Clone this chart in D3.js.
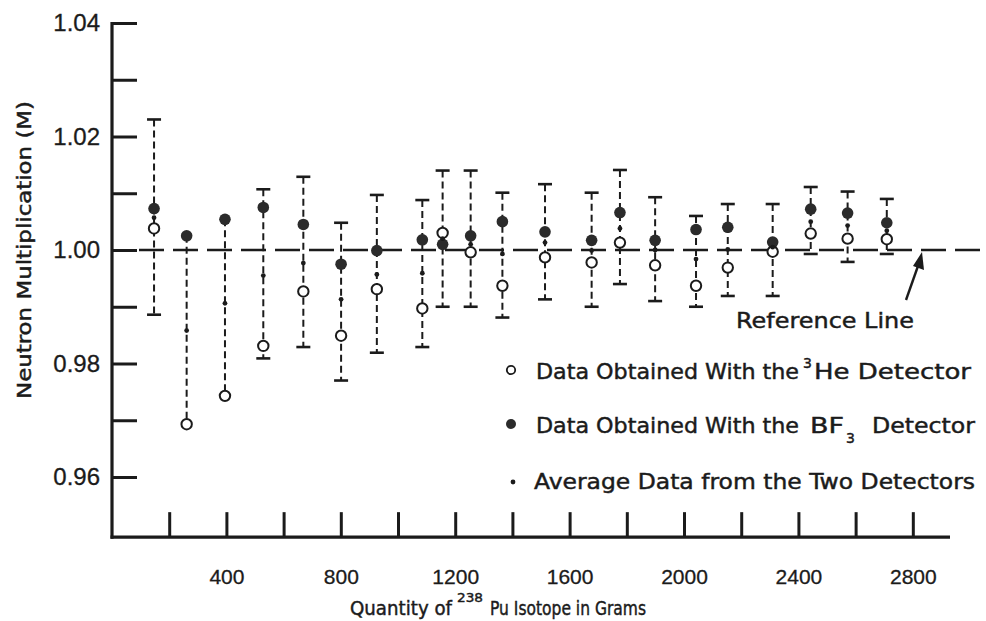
<!DOCTYPE html>
<html><head><meta charset="utf-8">
<script src="https://cdn.jsdelivr.net/npm/d3@7"></script>
<style>body{margin:0;background:#fff}svg{display:block}</style>
</head><body><svg id="c" width="986" height="621"></svg>
<script>
// ---- data ----
const grams   = [147, 261, 395, 529, 669, 801, 926, 1085, 1156, 1254, 1365, 1514, 1677, 1776, 1899, 2042, 2153, 2310, 2443, 2572, 2709];
const he3     = [1.0038, 0.9693, 0.9743, 0.9831, 0.9927, 0.9849, 0.9931, 0.9897, 1.0030, 0.9996, 0.9937, 0.9987, 0.9978, 1.0013, 0.9973, 0.9937, 0.9969, 0.9997, 1.0029, 1.0020, 1.0019];
const bf3     = [1.0073, 1.0025, 1.0054, 1.0075, 1.0045, 0.9975, 0.9999, 1.0018, 1.0010, 1.0025, 1.0050, 1.0032, 1.0017, 1.0066, 1.0017, 1.0036, 1.0040, 1.0014, 1.0072, 1.0065, 1.0048];
const average = [1.0057, 0.9858, 0.9906, 0.9955, 0.9977, 0.9913, 0.9957, 0.9959, 1.0020, 1.0010, 0.9993, 1.0013, 0.9999, 1.0038, 1.0000, 0.9984, 1.0001, 1.0005, 1.0050, 1.0043, 1.0034];
const errHigh = [1.0230, 1.0025, 1.0054, 1.0107, 1.0129, 1.0048, 1.0097, 1.0088, 1.0140, 1.0140, 1.0101, 1.0116, 1.0101, 1.0141, 1.0093, 1.0060, 1.0081, 1.0081, 1.0111, 1.0103, 1.0090];
const errLow  = [0.9886, 0.9693, 0.9743, 0.9809, 0.9829, 0.9770, 0.9819, 0.9829, 0.9900, 0.9900, 0.9881, 0.9913, 0.9900, 0.9940, 0.9910, 0.9900, 0.9919, 0.9919, 0.9993, 0.9979, 0.9993];
const yTicks      = [0.96, 0.97, 0.98, 0.99, 1.00, 1.01, 1.02, 1.03, 1.04];
const yLabelVals  = [0.96, 0.98, 1.00, 1.02, 1.04];
const yTickLabels = ["0.96", "0.98", "1.00", "1.02", "1.04"];
const xTicks      = [200, 400, 600, 800, 1000, 1200, 1400, 1600, 1800, 2000, 2200, 2400, 2600, 2800];
const xLabelVals  = [400, 800, 1200, 1600, 2000, 2400, 2800];
const xTickLabels = ["400", "800", "1200", "1600", "2000", "2400", "2800"];
const referenceValue = 1.00;
const axisBottomValue = 0.9494;
const xAxisMax = 2930;

// ---- drawing ----
const ink = "#1b1b1b";
const svg = d3.select("#c");
const x = d3.scaleLinear().domain([0, xAxisMax]).range([112, 950]);
const y = d3.scaleLinear().domain([0.96, 1.04]).range([477, 23]);
const baseY = y(axisBottomValue);

// y ticks (inward)
const gyt = svg.append("g").attr("transform", `translate(${x(0)},0)`)
  .call(d3.axisRight(y).tickValues(yTicks).tickSize(25).tickFormat(""));
gyt.select(".domain").remove();
gyt.selectAll(".tick line").attr("stroke", ink).attr("stroke-width", 3);

// y labels
const gyl = svg.append("g").attr("transform", `translate(${x(0)},0)`)
  .call(d3.axisLeft(y).tickValues(yLabelVals).tickSize(0).tickPadding(12).tickFormat((d, i) => yTickLabels[i]));
gyl.select(".domain").remove();
gyl.attr("font-family", "Liberation Sans, Arial, sans-serif").attr("font-size", 24);
gyl.selectAll("text").attr("fill", ink).attr("stroke", ink).attr("stroke-width", 0.3);

// x ticks (inward, upward)
const gxt = svg.append("g").attr("transform", `translate(0,${baseY})`)
  .call(d3.axisTop(x).tickValues(xTicks).tickSize(25).tickFormat(""));
gxt.select(".domain").remove();
gxt.selectAll(".tick line").attr("stroke", ink).attr("stroke-width", 3);

// x labels
const gxl = svg.append("g").attr("transform", `translate(0,${baseY})`)
  .call(d3.axisBottom(x).tickValues(xLabelVals).tickSize(0).tickPadding(32).tickFormat((d, i) => xTickLabels[i]));
gxl.select(".domain").remove();
gxl.attr("font-family", "Liberation Sans, Arial, sans-serif").attr("font-size", 21);
gxl.selectAll("text").attr("fill", ink).attr("stroke", ink).attr("stroke-width", 0.3);

// axis lines
svg.append("line").attr("x1", x(0)).attr("x2", x(0)).attr("y1", y(1.04) - 1).attr("y2", baseY + 1.5)
  .attr("stroke", ink).attr("stroke-width", 3.2);
svg.append("line").attr("x1", x(0) - 1.5).attr("x2", x(xAxisMax)).attr("y1", baseY).attr("y2", baseY)
  .attr("stroke", ink).attr("stroke-width", 3.2);

// reference line
svg.append("line").attr("x1", x(0) + 27).attr("x2", 986).attr("y1", y(referenceValue)).attr("y2", y(referenceValue))
  .attr("stroke", ink).attr("stroke-width", 2.4).attr("stroke-dasharray", "25,9");

// error bars
const idx = d3.range(grams.length);
const gE = svg.append("g");
gE.selectAll("line.eb").data(idx).join("line")
  .attr("x1", i => x(grams[i])).attr("x2", i => x(grams[i]))
  .attr("y1", i => y(errHigh[i])).attr("y2", i => y(errLow[i]))
  .attr("stroke", ink).attr("stroke-width", 2).attr("stroke-dasharray", "7,4");
const capped = idx.filter(i => errHigh[i] > Math.max(he3[i], bf3[i]) + 0.0005);
[errHigh, errLow].forEach(arr => {
  gE.selectAll(null).data(capped).join("line")
    .attr("x1", i => x(grams[i]) - 7).attr("x2", i => x(grams[i]) + 7)
    .attr("y1", i => y(arr[i])).attr("y2", i => y(arr[i]))
    .attr("stroke", ink).attr("stroke-width", 2.6);
});

// markers
svg.append("g").selectAll("circle").data(idx).join("circle")
  .attr("cx", i => x(grams[i])).attr("cy", i => y(bf3[i])).attr("r", 5.8).attr("fill", "#2b2b2b");
svg.append("g").selectAll("circle").data(idx).join("circle")
  .attr("cx", i => x(grams[i])).attr("cy", i => y(he3[i])).attr("r", 5.2)
  .attr("fill", "#fff").attr("stroke", ink).attr("stroke-width", 2);
svg.append("g").selectAll("circle").data(idx).join("circle")
  .attr("cx", i => x(grams[i])).attr("cy", i => y(average[i])).attr("r", 2.4).attr("fill", ink);

// legend
const lf = "DejaVu Sans, Verdana, sans-serif";
const T = (tx, ty, s, size, len) => {
  const t = svg.append("text").attr("x", tx).attr("y", ty).text(s)
    .attr("font-family", lf).attr("font-size", size).attr("fill", ink)
    .attr("stroke", ink).attr("stroke-width", 0.45);
  if (len) t.attr("textLength", len).attr("lengthAdjust", "spacingAndGlyphs");
  return t;
};
svg.append("circle").attr("cx", 511).attr("cy", 370).attr("r", 4.2).attr("fill", "#fff").attr("stroke", ink).attr("stroke-width", 1.8);
T(536, 379, "Data Obtained With the", 21, 263);
T(803, 368, "3", 14);
T(814, 379, "He Detector", 21, 157);
svg.append("circle").attr("cx", 511).attr("cy", 424).attr("r", 5).attr("fill", "#2b2b2b");
T(536, 433, "Data Obtained With the", 21, 263);
T(810, 433, "BF", 21, 34);
T(846, 443, "3", 14);
T(872, 433, "Detector", 21, 103);
svg.append("circle").attr("cx", 513).attr("cy", 482).attr("r", 2.4).attr("fill", ink);
T(534, 489, "Average Data from the Two Detectors", 21, 441);

// reference line note + arrow
T(736, 328, "Reference Line", 21, 178);
svg.append("line").attr("x1", 906).attr("y1", 300).attr("x2", 918).attr("y2", 266)
  .attr("stroke", ink).attr("stroke-width", 2.4);
svg.append("path").attr("d", "M922,252 L924,270 L913,266 Z").attr("fill", ink);

// axis titles
svg.append("text").attr("transform", "translate(31,250) rotate(-90)").attr("text-anchor", "middle")
  .attr("font-family", lf).attr("font-size", 19).attr("fill", ink)
  .attr("stroke", ink).attr("stroke-width", 0.45)
  .attr("textLength", 298).attr("lengthAdjust", "spacingAndGlyphs")
  .text("Neutron Multiplication (M)");
T(350, 615, "Quantity of", 19, 102);
T(457, 602, "238", 13, 26);
T(490, 615, "Pu Isotope in Grams", 19, 156);
</script></body></html>
